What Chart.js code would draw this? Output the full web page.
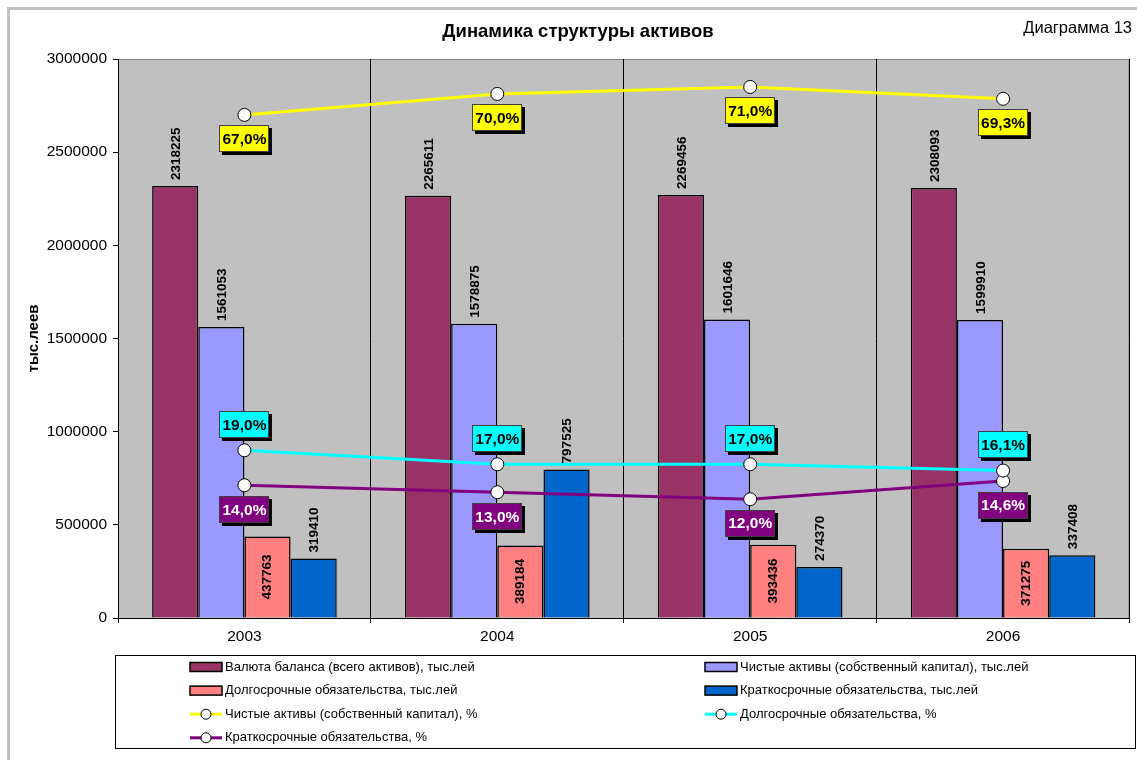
<!DOCTYPE html>
<html>
<head>
<meta charset="utf-8">
<script src="https://cdn.jsdelivr.net/npm/chart.js@4.4.1/dist/chart.umd.min.js"></script>
<style>
  body { margin: 0; background: #fff; }
</style>
</head>
<body>
<canvas id="myChart" width="1137" height="760"></canvas>
<script>
const years = ['2003', '2004', '2005', '2006'];
const totalAssets = [2318225, 2265611, 2269456, 2308093];
const netAssets = [1561053, 1578875, 1601646, 1599910];
const longTerm = [437763, 389184, 393436, 371275];
const shortTerm = [319410, 797525, 274370, 337408];
const netAssetsPct = [67.0, 70.0, 71.0, 69.3];
const longTermPct = [19.0, 17.0, 17.0, 16.1];
const shortTermPct = [14.0, 13.0, 12.0, 14.6];
const yTicks = [0, 500000, 1000000, 1500000, 2000000, 2500000, 3000000];

const FONT = '"Liberation Sans", Arial, sans-serif';

function pct(v) {
   return v.toFixed(1).replace('.', ',') + '%';
}

// background, frame, plot area fill
const backPlugin = {
   id: 'back',
   beforeDraw(chart) {
      const c = chart.ctx;
      const a = chart.chartArea;
      c.save();
      c.fillStyle = '#fff';
      c.fillRect(0, 0, chart.width, chart.height);
      c.fillStyle = '#c0c0c0';
      c.fillRect(7, 7, 3, chart.height);
      c.fillRect(7, 7, chart.width, 3);
      c.fillStyle = '#c0c0c0';
      c.fillRect(a.left, a.top, a.right - a.left, a.bottom - a.top);
      c.strokeStyle = '#808080';
      c.lineWidth = 1;
      c.strokeRect(a.left + 0.5, a.top + 0.5, a.right - a.left - 1, a.bottom - a.top);
      c.restore();
   }
};

// value labels, titles and legend
const labelPlugin = {
   id: 'labels',
   afterDatasetsDraw(chart) {
      const c = chart.ctx;
      c.save();
      // bar values
      c.font = 'bold 13.5px ' + FONT;
      c.fillStyle = '#000';
      chart.data.datasets.forEach((ds, i) => {
         if (ds.type === 'line') return;
         const meta = chart.getDatasetMeta(i);
         meta.data.forEach((bar, j) => {
            const txt = String(ds.data[j]);
            c.save();
            if (ds.inside) {
               c.translate(bar.x, (bar.y + bar.base) / 2);
               c.rotate(-Math.PI / 2);
               c.textAlign = 'center';
            } else {
               c.translate(bar.x + 1, bar.y - 6);
               c.rotate(-Math.PI / 2);
               c.textAlign = 'left';
            }
            c.textBaseline = 'middle';
            c.fillText(txt, 0, 0);
            c.restore();
         });
      });
      // percentage boxes
      c.font = 'bold 15.5px ' + FONT;
      chart.data.datasets.forEach((ds, i) => {
         if (ds.type !== 'line') return;
         const meta = chart.getDatasetMeta(i);
         meta.data.forEach((pt, j) => {
            const txt = pct(ds.data[j]);
            const w = c.measureText(txt).width + 6;
            const h = 27;
            const cx = pt.x;
            const cy = pt.y + ds.labelOffset;
            const x = Math.round(cx - w / 2), y = Math.round(cy - h / 2);
            c.fillStyle = '#000';
            c.fillRect(x + 3, y + 3, w, h);
            c.fillStyle = ds.borderColor;
            c.fillRect(x, y, w, h);
            c.strokeStyle = '#404040';
            c.lineWidth = 1;
            c.strokeRect(x + 0.5, y + 0.5, w - 1, h - 1);
            c.fillStyle = ds.labelColor;
            c.textAlign = 'center';
            c.textBaseline = 'middle';
            c.fillText(txt, cx, cy + 1);
         });
      });
      c.restore();
   },
   afterDraw(chart) {
      const c = chart.ctx;
      c.save();
      c.fillStyle = '#000';
      c.textBaseline = 'middle';
      c.textAlign = 'center';
      c.font = 'bold 18.5px ' + FONT;
      c.fillText('Динамика структуры активов', 578, 32);
      c.textAlign = 'right';
      c.font = '16.5px ' + FONT;
      c.fillText('Диаграмма 13', 1132, 28);

      // legend
      c.strokeStyle = '#000';
      c.lineWidth = 1;
      c.strokeRect(115.5, 655.5, 1020, 93);
      c.font = '13px ' + FONT;
      c.textAlign = 'left';
      const colX = [190, 705];
      chart.data.datasets.forEach((ds, i) => {
         const x = colX[i % 2];
         const y = 667 + Math.floor(i / 2) * 23.6;
         if (ds.type === 'line') {
            c.strokeStyle = ds.borderColor;
            c.lineWidth = 3;
            c.beginPath();
            c.moveTo(x, y);
            c.lineTo(x + 32, y);
            c.stroke();
            c.fillStyle = '#fff';
            c.strokeStyle = '#000';
            c.lineWidth = 1;
            c.beginPath();
            c.arc(x + 16, y, 5, 0, Math.PI * 2);
            c.fill();
            c.stroke();
         } else {
            c.fillStyle = ds.backgroundColor;
            c.fillRect(x, y - 4.5, 32, 9);
            c.strokeStyle = '#000';
            c.lineWidth = 1.5;
            c.strokeRect(x, y - 4.5, 32, 9);
         }
         c.fillStyle = '#000';
         c.fillText(ds.label, x + 35, y);
      });
      c.restore();
   }
};

function lineSet(label, data, color, offset, textColor) {
   return {
      type: 'line',
      label: label,
      data: data,
      yAxisID: 'y2',
      borderColor: color,
      backgroundColor: color,
      borderWidth: 3,
      pointRadius: 6.5,
      pointBackgroundColor: '#fff',
      pointBorderColor: '#000',
      pointBorderWidth: 1,
      tension: 0,
      order: 0,
      labelOffset: offset,
      labelColor: textColor,
   };
}

function barSet(label, data, color, inside) {
   return {
      type: 'bar',
      label: label,
      data: data,
      yAxisID: 'y',
      backgroundColor: color,
      borderColor: '#000',
      borderWidth: 1.5,
      order: 1,
      inside: inside,
   };
}

var ctx = document.getElementById('myChart');
var myChart = new Chart(ctx, {
   data: {
      labels: years,
      datasets: [
         barSet('Валюта баланса (всего активов), тыс.лей', totalAssets, '#993366', false),
         barSet('Чистые активы (собственный капитал), тыс.лей', netAssets, '#9999ff', false),
         barSet('Долгосрочные обязательства, тыс.лей', longTerm, '#ff8080', true),
         barSet('Краткосрочные обязательства, тыс.лей', shortTerm, '#0066cc', false),
         lineSet('Чистые активы (собственный капитал), %', netAssetsPct, '#ffff00', 24, '#000'),
         lineSet('Долгосрочные обязательства, %', longTermPct, '#00ffff', -26, '#000'),
         lineSet('Краткосрочные обязательства, %', shortTermPct, '#800080', 24, '#fff'),
      ],
   },
   options: {
      responsive: false,
      animation: false,
      events: [],
      layout: {
         padding: { left: 15, right: 7, top: 59, bottom: 0 }
      },
      datasets: {
         bar: {
            categoryPercentage: 0.73,
            barPercentage: 1.0,
         }
      },
      plugins: {
         legend: { display: false },
         tooltip: { enabled: false },
      },
      scales: {
         x: {
            offset: true,
            grid: {
               offset: true,
               color: '#000',
               lineWidth: 1,
               tickLength: 5,
               drawOnChartArea: true,
            },
            border: { color: '#000' },
            ticks: {
               color: '#000',
               font: { family: FONT, size: 15.5 },
               padding: 4,
               maxRotation: 0,
            },
            afterFit(scale) { scale.height = 142; },
         },
         y: {
            position: 'left',
            min: 0,
            max: 3000000,
            afterBuildTicks(scale) {
               scale.ticks = yTicks.map(v => ({ value: v }));
            },
            grid: {
               drawOnChartArea: false,
               drawTicks: true,
               tickLength: 5,
               color: '#000',
            },
            border: { color: '#000' },
            ticks: {
               color: '#000',
               font: { family: FONT, size: 15.5 },
               padding: 6,
               callback: v => String(v),
            },
            title: {
               display: true,
               text: 'тыс.леев',
               color: '#000',
               font: { family: FONT, size: 15, weight: 'bold' },
               padding: { top: 10, bottom: 0 },
            },
            afterFit(scale) { scale.width = 103; },
         },
         y2: {
            display: false,
            min: -5,
            max: 75,
         },
      },
   },
   plugins: [backPlugin, labelPlugin],
});
</script>
</body>
</html>
